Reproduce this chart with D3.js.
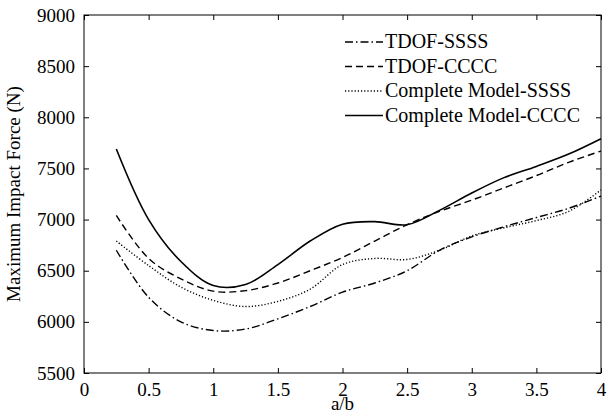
<!DOCTYPE html>
<html>
<head>
<meta charset="utf-8">
<script src="https://cdn.jsdelivr.net/npm/d3@7"></script>
<style>
  body { margin: 0; background: #fff; }
  text { font-family: "Liberation Serif", "Times New Roman", serif; fill: #000; }
</style>
</head>
<body>
<svg width="610" height="416"></svg>
<script>
const aOverB = [0.25, 0.5, 0.75, 1.0, 1.25, 1.5, 1.75, 2.0, 2.25, 2.5, 2.75, 3.0, 3.25, 3.5, 3.75, 4.0];
const tdofSSSS = [6700, 6240, 6000, 5915, 5930, 6030, 6150, 6290, 6380, 6500, 6700, 6830, 6930, 7020, 7110, 7230];
const tdofCCCC = [7040, 6620, 6420, 6300, 6305, 6380, 6500, 6630, 6790, 6950, 7080, 7190, 7310, 7430, 7560, 7670];
const completeSSSS = [6790, 6550, 6340, 6210, 6150, 6200, 6320, 6560, 6620, 6610, 6700, 6840, 6920, 6990, 7080, 7290];
const completeCCCC = [7690, 7000, 6590, 6355, 6365, 6560, 6790, 6955, 6980, 6950, 7090, 7260, 7410, 7520, 7640, 7790];
const seriesNames = ['TDOF-SSSS', 'TDOF-CCCC', 'Complete Model-SSSS', 'Complete Model-CCCC'];
const xTicks = [0, 0.5, 1, 1.5, 2, 2.5, 3, 3.5, 4];
const yTicks = [5500, 6000, 6500, 7000, 7500, 8000, 8500, 9000];

const dashes = ['8,3,1.5,3', '7,4', '1.2,2', null];
const allSeries = [tdofSSSS, tdofCCCC, completeSSSS, completeCCCC];

const margin = { left: 84, right: 9, top: 15, bottom: 43 };
const svg = d3.select('svg');
const width = +svg.attr('width');
const height = +svg.attr('height');
const innerWidth = width - margin.left - margin.right;
const innerHeight = height - margin.top - margin.bottom;

const g = svg.append('g')
    .attr('transform', `translate(${margin.left},${margin.top})`);

const xScale = d3.scaleLinear().domain([0, 4]).range([0, innerWidth]);
const yScale = d3.scaleLinear().domain([5500, 9000]).range([innerHeight, 0]);

// frame
g.append('rect')
    .attr('width', innerWidth)
    .attr('height', innerHeight)
    .attr('fill', 'none')
    .attr('stroke', '#000')
    .attr('stroke-width', 1);

const fmt = d => d3.format('')(d);

const xAxisG = g.append('g')
    .attr('transform', `translate(0,${innerHeight})`)
    .call(d3.axisBottom(xScale).tickValues(xTicks).tickSize(-5).tickPadding(10).tickFormat(fmt));
const xTopG = g.append('g')
    .call(d3.axisTop(xScale).tickValues(xTicks).tickSize(-5).tickFormat(''));
const yAxisG = g.append('g')
    .call(d3.axisLeft(yScale).tickValues(yTicks).tickSize(-5).tickPadding(9).tickFormat(fmt));
const yRightG = g.append('g')
    .attr('transform', `translate(${innerWidth},0)`)
    .call(d3.axisRight(yScale).tickValues(yTicks).tickSize(-5).tickFormat(''));

[xAxisG, xTopG, yAxisG, yRightG].forEach(a => {
  a.attr('font-size', 19).attr('font-family', '"Liberation Serif", serif');
  a.select('.domain').remove();
  a.selectAll('line').attr('stroke', '#000');
});

xAxisG.append('text')
    .attr('x', innerWidth / 2)
    .attr('y', 37)
    .attr('text-anchor', 'middle')
    .attr('fill', '#000')
    .style('font-size', '19px')
    .text('a/b');

yAxisG.append('text')
    .attr('x', -innerHeight / 2)
    .attr('y', -64)
    .attr('transform', 'rotate(-90)')
    .attr('text-anchor', 'middle')
    .attr('fill', '#000')
    .style('font-size', '19px')
    .text('Maximum Impact Force (N)');

const line = d3.line()
    .x((d, i) => xScale(aOverB[i]))
    .y(d => yScale(d))
    .curve(d3.curveCatmullRom.alpha(0.5));

allSeries.forEach((s, k) => {
  g.append('path')
      .datum(s)
      .attr('d', line)
      .attr('fill', 'none')
      .attr('stroke', '#000')
      .attr('stroke-width', k === 3 ? 1.6 : 1.4)
      .attr('stroke-dasharray', dashes[k]);
});

// legend
const legend = g.append('g').attr('transform', 'translate(261,27)');
seriesNames.forEach((name, k) => {
  const row = legend.append('g').attr('transform', `translate(0,${k * 24.5})`);
  row.append('line')
      .attr('x1', 0).attr('x2', 38)
      .attr('stroke', '#000')
      .attr('stroke-width', k === 3 ? 1.6 : 1.4)
      .attr('stroke-dasharray', dashes[k]);
  row.append('text')
      .attr('x', 40)
      .attr('y', 6)
      .style('font-size', '20px')
      .text(name);
});
</script>
</body>
</html>
